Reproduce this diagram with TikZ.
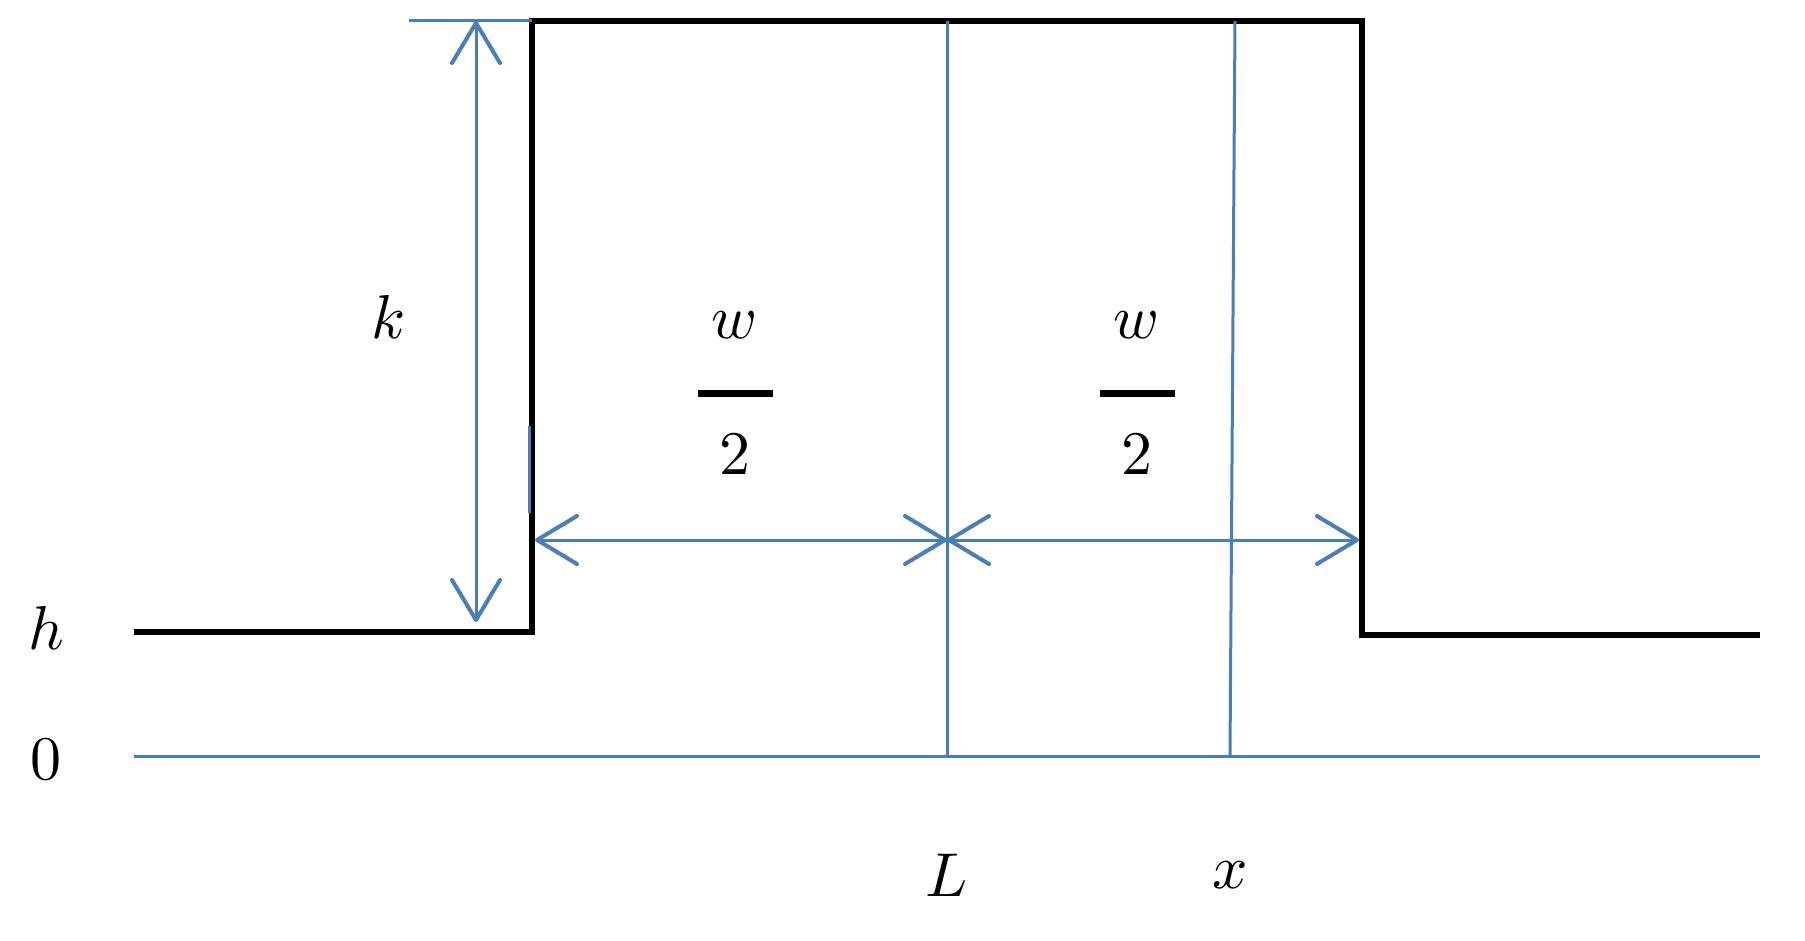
\documentclass[tikz,border=0pt]{standalone}
\usetikzlibrary{arrows.meta}
\definecolor{bl}{RGB}{74,126,187}
\begin{document}
\begin{tikzpicture}[x=1pt,y=-1pt,
  blk/.style={line width=6pt,black},
  bline/.style={line width=3pt,bl},
  fbar/.style={line width=7pt,black},
  barr/.style={bline,{Straight Barb[length=40pt,width=48pt,line width=4pt,round]}-{Straight Barb[length=40pt,width=48pt,line width=4pt,round]}},
  lab/.style={scale=6.2}]
\useasboundingbox (0,0) rectangle (1805,941);
\coordinate (a) at (134,632); \coordinate (b) at (532,632); \coordinate (c) at (532,21);
\coordinate (d) at (1362,21); \coordinate (e) at (1362,635); \coordinate (f) at (1760,635);
\draw[blk,line join=miter] (a) -- (b) -- (c) -- (d) -- (e) -- (f);
\coordinate (z0) at (134,756); \coordinate (z1) at (1760,756);
\draw[bline] (z0) -- (z1);
\coordinate (Lt) at (947,21); \coordinate (Lb) at (947,756);
\draw[bline] (Lt) -- (Lb);
\coordinate (xt) at (1235,21); \coordinate (xb) at (1230,756);
\draw[bline] (xt) -- (xb);
\coordinate (tk0) at (409,21); \coordinate (tk1) at (532,21);
\draw[bline] (tk0) -- (tk1);
\coordinate (k0) at (476,21); \coordinate (k1) at (476,622);
\draw[barr] (k0) -- (k1);
\coordinate (s0) at (529,426); \coordinate (s1) at (529,513);
\draw[bline] (s0) -- (s1);
\coordinate (h0) at (535,540); \coordinate (h1) at (947,540); \coordinate (h2) at (1359,540);
\draw[barr] (h0) -- (h1);
\draw[barr] (h1) -- (h2);
\node[lab] (k) at (389,317) {$k$};
\node[lab] (w1) at (735,325) {$w$};
\node[lab] (t1) at (735,455) {$2$};
\coordinate (f1a) at (698,393); \coordinate (f1b) at (773,393);
\draw[fbar] (f1a) -- (f1b);
\node[lab] (w2) at (1137,325) {$w$};
\node[lab] (t2) at (1137,455) {$2$};
\coordinate (f2a) at (1100,393); \coordinate (f2b) at (1175,393);
\draw[fbar] (f2a) -- (f2b);
\node[lab] (h) at (46,628) {$h$};
\node[lab] (o) at (46,760) {$0$};
\node[lab] (L) at (947,875) {$L$};
\node[lab] (x) at (1230,875) {$x$};
\end{tikzpicture}
\end{document}
